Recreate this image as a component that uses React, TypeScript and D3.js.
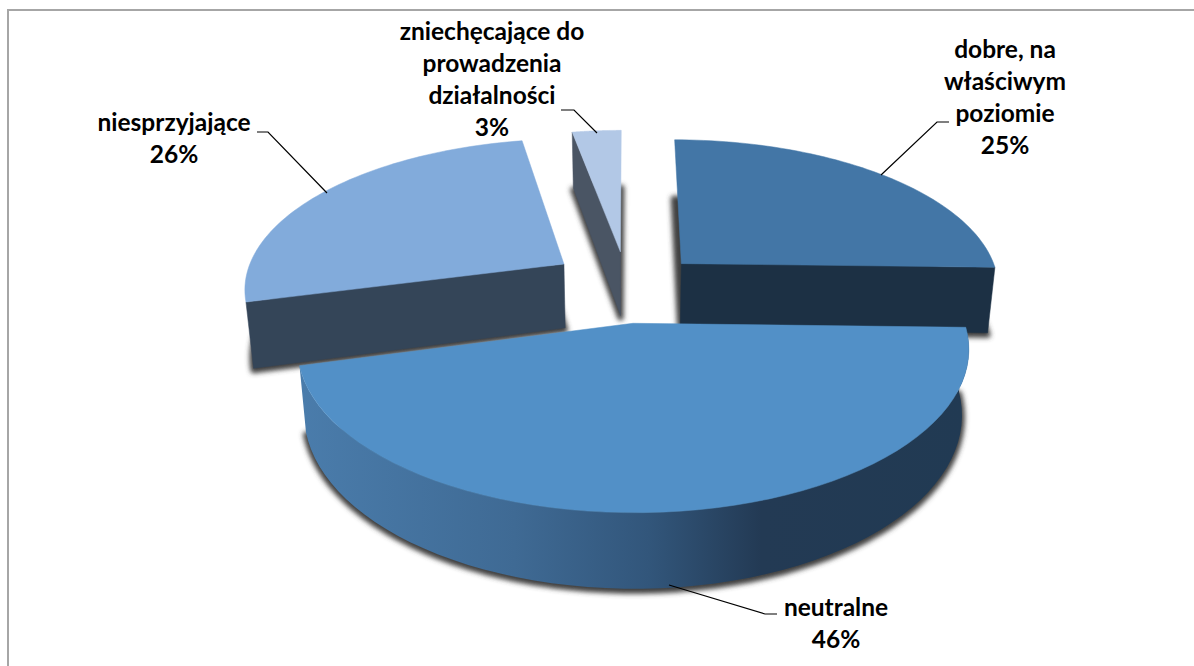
import React from "react";
import * as d3 from "d3";

const categories = ["dobre, na właściwym poziomie", "neutralne", "niesprzyjające", "zniechęcające do prowadzenia działalności"];
const shares = [25.4, 45.5, 26.2, 2.9];
const labelLines = [
  ["dobre, na", "właściwym", "poziomie", "25%"],
  ["neutralne", "46%"],
  ["niesprzyjające", "26%"],
  ["zniechęcające do", "prowadzenia", "działalności", "3%"],
];
const labelCenters: [number, number][] = [[1005, 52], [836, 610], [174, 125], [492, 34]];
const labelGaps = [32, 31.5, 32, 32];
const leaders: [number, number][][] = [
  [[949, 122], [937, 122], [881, 175]],
  [[777, 614], [765, 614], [669, 585]],
  [[257, 132], [268, 132], [327, 193]],
  [[561, 110], [574, 110], [597, 133]],
];
const topColors = ["#4376a6", "#5290c7", "#82abdb", "#b2c8e6"];
const wallColors = ["#1c3044", "", "#344558", "#4a5564"];
const wallEnd = [1, 1, 0, 0]; // which radial face of a slice shows: 1 = its end, 0 = its start
const rimStops: [number, string][] = [
  [0, "#4a7cab"], [0.32, "#3f6a94"], [0.52, "#32567b"], [0.69, "#233a54"], [1, "#213a53"],
];
const nudges: [number, number][] = [[-1, -2], [-6, -2], [-4, -7], [-3, -4]];
const depths = [67, 62, 65, 66];

const cx = 630, cy = 289.4, R = 320, Ry = 149, k = 0.15, explode = 0.234, shrink = 0.98;

type P = [number, number];
const project = (u: number, v: number, low: boolean, i: number): P => {
  const w = 1 / (1 - k * v);
  const x = cx + R * u * w;
  const [dx, dy] = nudges[i];
  return low
    ? [cx + (x - cx) * shrink + dx, cy + Ry * v * w + depths[i] * w + dy]
    : [x + dx, cy + Ry * v * w + dy];
};

const pie = d3.pie<number>().sort(null).value((d) => d);
const arcs = pie(shares);
const line = d3.line();

function slicePts(i: number) {
  const a = arcs[i];
  const mid = (a.startAngle + a.endAngle) / 2;
  const ou = explode * Math.sin(mid), ov = -explode * Math.cos(mid);
  const at = (t: number, r: number, low: boolean) => project(ou + r * Math.sin(t), ov - r * Math.cos(t), low, i);
  const ts = d3.range(0, 61).map((n) => a.startAngle + ((a.endAngle - a.startAngle) * n) / 60);
  return {
    apexT: at(0, 0, false),
    apexB: at(0, 0, true),
    rimT: ts.map((t) => at(t, 1, false)),
    rimB: ts.map((t) => at(t, 1, true)),
  };
}

const closed = (pts: P[]) => (line(pts) || "") + "Z";

function Shadow({ i }: { i: number }) {
  const s = slicePts(i);
  return (
    <path d={closed([s.apexB, ...s.rimB])} fill="#404040" stroke="#404040" strokeWidth={6} strokeLinejoin="round" filter="url(#soft)" transform="translate(0,2)" />
  );
}

function Slice({ i }: { i: number }) {
  const s = slicePts(i);
  const pick = wallEnd[i] ? s.rimT.length - 1 : 0;
  return (
    <g>
      {wallColors[i] ? (
        <path d={closed([s.apexT, s.rimT[pick], s.rimB[pick], s.apexB])} fill={wallColors[i]} stroke={wallColors[i]} strokeWidth={0.5} />
      ) : (
        <path d={closed([...s.rimT, ...[...s.rimB].reverse()])} fill="url(#rim)" />
      )}
      <path d={closed([s.apexT, ...s.rimT])} fill={topColors[i]} stroke={topColors[i]} strokeWidth={0.5} />
    </g>
  );
}

export default function App() {
  const order = [3, 0, 1, 2];
  return (
    <svg width={1194} height={666} style={{ position: "absolute", left: 0, top: 0 }} role="img" aria-label={categories.join(", ")}>
      <defs>
        <filter id="soft" x="-20%" y="-20%" width="140%" height="140%">
          <feGaussianBlur stdDeviation={2.5} />
        </filter>
        <linearGradient id="rim" gradientUnits="userSpaceOnUse" x1={302} x2={968} y1={0} y2={0}>
          {rimStops.map(([o, c]) => (
            <stop key={o} offset={o} stopColor={c} />
          ))}
        </linearGradient>
      </defs>
      <rect x={0} y={0} width={1194} height={666} fill="#fff" />
      <path d="M8,666V10H1194" fill="none" stroke="#a6a6a6" strokeWidth={2} />
      {order.map((i) => (
        <Shadow key={i} i={i} />
      ))}
      {order.map((i) => (
        <Slice key={i} i={i} />
      ))}
      {leaders.map((pts, i) => (
        <path key={i} d={line(pts) || ""} fill="none" stroke="#000" strokeWidth={1.2} />
      ))}
      {labelLines.map((lines, i) =>
        lines.map((t, j) => (
          <text
            key={t}
            x={labelCenters[i][0]}
            y={labelCenters[i][1] + j * labelGaps[i]}
            textAnchor="middle"
            dominantBaseline="middle"
            fontFamily="Lato, 'Open Sans', sans-serif"
            fontWeight={700}
            fontSize={24.5}
            fill="#000"
          >
            {t}
          </text>
        ))
      )}
    </svg>
  );
}
